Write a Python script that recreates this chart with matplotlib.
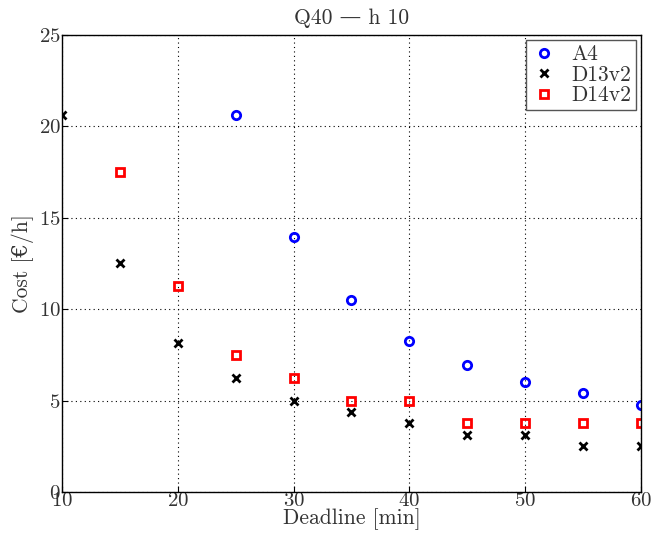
import numpy as np
import matplotlib
matplotlib.use("Agg")
import matplotlib.pyplot as plt

plt.rcParams['font.family'] = ['cmr10', 'DejaVu Serif']
plt.rcParams['mathtext.fontset'] = 'cm'
plt.rcParams['axes.formatter.use_mathtext'] = True

deadline_a4 = [25, 30, 35, 40, 45, 50, 55, 60]
cost_a4 = [20.63, 13.97, 10.5, 8.25, 6.96, 6.02, 5.42, 4.78]

deadline_d13 = [10, 15, 20, 25, 30, 35, 40, 45, 50, 55, 60]
cost_d13 = [20.63, 12.5, 8.13, 6.25, 5.0, 4.38, 3.75, 3.13, 3.13, 2.5, 2.5]

deadline_d14 = [15, 20, 25, 30, 35, 40, 45, 50, 55, 60]
cost_d14 = [17.5, 11.25, 7.5, 6.25, 5.0, 5.0, 3.75, 3.75, 3.75, 3.75]

text_col = '#333333'

fig = plt.figure(figsize=(6.56, 5.46), dpi=100)
ax = fig.add_axes([0.0945, 0.099, 0.8825, 0.837])

ax.plot(deadline_a4, cost_a4, 'o', ls='none', mfc='none', mec='blue', mew=2, ms=6, label='A4')
ax.plot(deadline_d13, cost_d13, 'x', ls='none', color='black', mew=2, ms=6, label='D13v2')
ax.plot(deadline_d14, cost_d14, 's', ls='none', mfc='none', mec='red', mew=2, ms=6, label='D14v2')

ax.set_xlim(10, 60)
ax.set_ylim(0, 25)
ax.set_xticks([10, 20, 30, 40, 50, 60])
ax.set_yticks([0, 5, 10, 15, 20, 25])
ax.grid(True, color='black', linestyle=(0, (1, 3)), linewidth=0.8)
ax.tick_params(direction='in', labelsize=15, labelcolor=text_col, length=4)
ax.tick_params(axis='x', pad=0)
ax.tick_params(axis='y', pad=1)
for s in ax.spines.values():
    s.set_linewidth(1)

ax.set_xlabel('Deadline [min]', fontsize=15.5, color=text_col, labelpad=-1)
ax.set_ylabel('Cost [€/h]', fontsize=15.5, color=text_col, labelpad=3)
ax.set_title('Q40 — h 10', fontsize=15.5, color=text_col, pad=8)

leg = ax.legend(loc='upper right', fontsize=15.5, fancybox=False, framealpha=1,
                edgecolor='#555555', handlelength=1.3, handletextpad=0.6,
                borderaxespad=0.25, labelspacing=0.05, borderpad=0.2)
for t in leg.get_texts():
    t.set_color(text_col)

fig.savefig('out.png', dpi=100)
